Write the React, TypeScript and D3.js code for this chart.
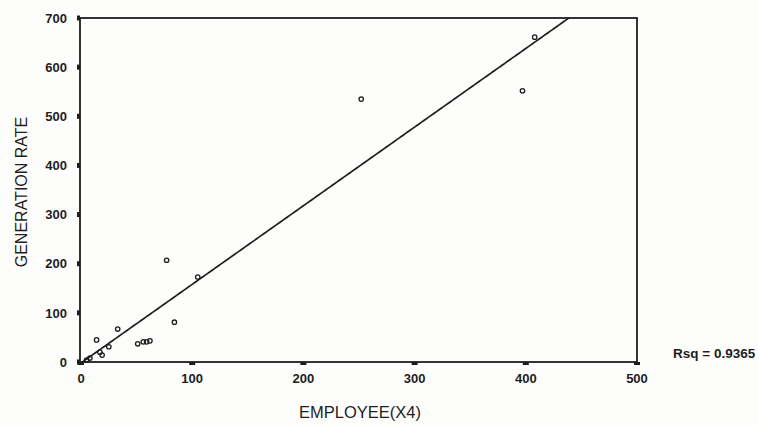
import React from "react";
import * as d3 from "d3";

const employees = [408, 397, 252, 77, 105, 14, 33, 84, 51, 56, 59, 62, 17, 19, 25, 8, 5];
const generation = [661, 552, 535, 207, 173, 45, 67, 81, 37, 41, 41, 43, 20, 14, 31, 8, 4];
const xTicks = [0, 100, 200, 300, 400, 500];
const yTicks = [0, 100, 200, 300, 400, 500, 600, 700];
const fitSlope = 1.6;
const fitIntercept = -2;
const rsqLabel = "Rsq = 0.9365";
const xTitle = "EMPLOYEE(X4)";
const yTitle = "GENERATION RATE";

const W = 759;
const H = 425;
const m = { left: 80, right: 637, top: 18, bottom: 362 };

export default function App() {
  const x = d3.scaleLinear().domain([0, 500]).range([m.left + 1, m.right]);
  const y = d3.scaleLinear().domain([0, 700]).range([m.bottom, m.top]);
  const ink = "#1e1e1e";
  const font = "Arial, 'Liberation Sans', sans-serif";
  const line = d3
    .line<number>()
    .x((d) => x(d))
    .y((d) => y(fitSlope * d + fitIntercept));
  const xs = d3.range(0, 500.1, 2);
  return (
    <svg
      width={W}
      height={H}
      style={{ position: "absolute", left: 0, top: 0, background: "#fdfdfc" }}
      fontFamily={font}
    >
      <defs>
        <clipPath id="plot">
          <rect x={m.left} y={m.top} width={m.right - m.left} height={m.bottom - m.top} />
        </clipPath>
      </defs>
      <rect
        x={m.left}
        y={m.top}
        width={m.right - m.left}
        height={m.bottom - m.top}
        fill="none"
        stroke={ink}
        strokeWidth={1.8}
      />
      {yTicks.map((t) => (
        <g key={"y" + t}>
          <rect x={m.left - 3} y={y(t) - 2.5} width={3} height={5} fill={ink} />
          <text
            x={m.left - 13}
            y={y(t)}
            dy="0.36em"
            textAnchor="end"
            fontSize={13}
            fontWeight="bold"
            fill={ink}
          >
            {t}
          </text>
        </g>
      ))}
      {xTicks.map((t) => (
        <g key={"x" + t}>
          <rect x={x(t) - 3} y={m.bottom} width={6} height={3} fill={ink} />
          <text
            x={x(t)}
            y={m.bottom + 21}
            textAnchor="middle"
            fontSize={13}
            fontWeight="bold"
            fill={ink}
          >
            {t}
          </text>
        </g>
      ))}
      <path
        d={line(xs) || ""}
        clipPath="url(#plot)"
        fill="none"
        stroke={ink}
        strokeWidth={1.7}
      />
      {employees.map((e, i) => (
        <circle
          key={i}
          cx={x(e)}
          cy={y(generation[i])}
          r={2.2}
          fill="none"
          stroke={ink}
          strokeWidth={1.3}
        />
      ))}
      <text
        x={21}
        y={192}
        transform="rotate(-90 21 192)"
        dy="0.36em"
        textAnchor="middle"
        fontSize={16}
        fill={ink}
      >
        {yTitle}
      </text>
      <text x={360} y={418} textAnchor="middle" fontSize={16.5} fill={ink}>
        {xTitle}
      </text>
      <text x={673} y={358} fontSize={13.5} fontWeight="bold" fill={ink}>
        {rsqLabel}
      </text>
    </svg>
  );
}
